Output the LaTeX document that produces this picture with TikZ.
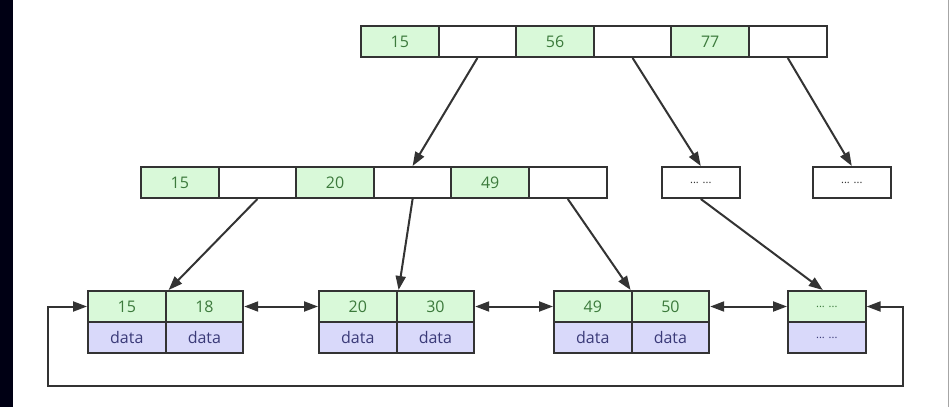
\documentclass[tikz,border=0pt]{standalone}
\usepackage{fontspec}
\setmainfont{Open Sans}
\usetikzlibrary{arrows.meta,calc}
\definecolor{keyfill}{HTML}{D9F9D9}
\definecolor{keytext}{HTML}{3C7A3C}
\definecolor{datafill}{HTML}{D9D9FA}
\definecolor{datatext}{HTML}{3A3A78}
\definecolor{edge}{HTML}{333333}
\tikzset{
  cell/.style={draw=edge, line width=2pt, minimum width=77.6pt, minimum height=31pt, inner sep=0pt, anchor=north west, font=\fontsize{16}{19}\selectfont},
  keycell/.style={cell, fill=keyfill, text=keytext},
  emptycell/.style={cell, fill=white},
  datacell/.style={cell, fill=datafill, text=datatext},
  dotfont/.style={font=\fontsize{11}{13}\selectfont},
  dotcell/.style={cell, fill=white, text=edge, dotfont},
  conn/.style={draw=edge, line width=2pt, -{Triangle[length=14pt,width=10pt]}},
  dconn/.style={draw=edge, line width=2pt, {Triangle[length=14pt,width=10pt]}-{Triangle[length=14pt,width=10pt]}},
}
\begin{document}
\begin{tikzpicture}[x=1pt,y=-1pt]
\useasboundingbox (0,0) rectangle (950,407);
\fill[white] (0,0) rectangle (950,407);
\fill[black!92!blue] (0,0) rectangle (13,407);
\draw[gray!70, line width=0.8pt] (948,0) -- (948,407);
% root
\node[keycell]   (r1) at (360,25) {15};
\node[emptycell] (r2) at (437.6,25) {};
\node[keycell]   (r3) at (515.2,25) {56};
\node[emptycell] (r4) at (592.8,25) {};
\node[keycell]   (r5) at (670.4,25) {77};
\node[emptycell] (r6) at (748,25) {};
% middle
\node[keycell]   (m1) at (140,166) {15};
\node[emptycell] (m2) at (217.6,166) {};
\node[keycell]   (m3) at (295.2,166) {20};
\node[emptycell] (m4) at (372.8,166) {};
\node[keycell]   (m5) at (450.4,166) {49};
\node[emptycell] (m6) at (528,166) {};
\node[dotcell]   (e1) at (661,166) {... ...};
\node[dotcell]   (e2) at (812,166) {... ...};
% leaves
\node[keycell]  (a1) at (87,290) {15};
\node[keycell]  (a2) at (164.6,290) {18};
\node[datacell] (a3) at (87,321) {data};
\node[datacell] (a4) at (164.6,321) {data};
\node[keycell]  (b1) at (318,290) {20};
\node[keycell]  (b2) at (395.6,290) {30};
\node[datacell] (b3) at (318,321) {data};
\node[datacell] (b4) at (395.6,321) {data};
\node[keycell]  (c1) at (553,290) {49};
\node[keycell]  (c2) at (630.6,290) {50};
\node[datacell] (c3) at (553,321) {data};
\node[datacell] (c4) at (630.6,321) {data};
\node[keycell, dotfont]  (d1) at (787,290) {... ...};
\node[datacell, dotfont] (d2) at (787,321) {... ...};
% tree arrows
\draw[conn] (r2.south) -- (m4.north);
\draw[conn] (r4.south) -- (e1.north);
\draw[conn] (r6.south) -- (e2.north);
\draw[conn] (m2.south) -- ($(a2.north west)+(4,0)$);
\draw[conn] (m4.south) -- ($(b2.north west)+(3,0)$);
\draw[conn] (m6.south) -- (c2.north west);
\draw[conn] (e1.south) -- ($(d1.north)+(-4,0)$);
% leaf links
\draw[dconn] (a2.east) -- (b1.west);
\draw[dconn] (b2.east) -- (c1.west);
\draw[dconn] (c2.east) -- (d1.west);
\coordinate (lb) at (48,386);
\coordinate (rb) at (903,386);
\draw[dconn] (a1.west) -| (lb) -- (rb) |- (d1.east);
\end{tikzpicture}
\end{document}
